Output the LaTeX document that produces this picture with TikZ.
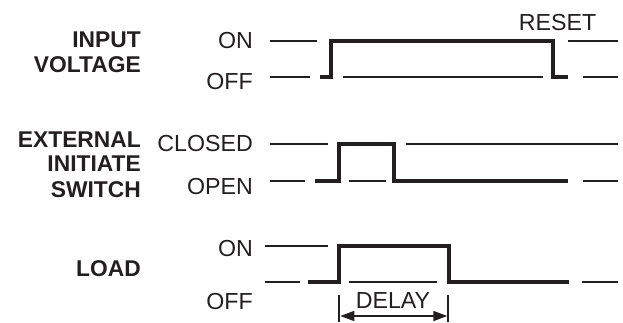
\documentclass[tikz,border=0pt]{standalone}
\usepackage{fontspec}
\setmainfont{Liberation Sans}
\usetikzlibrary{arrows.meta}
\definecolor{ink}{RGB}{35,31,32}
\begin{document}
\begin{tikzpicture}[x=1pt,y=-1pt,
  lbl/.style={font=\fontsize{22.8}{26}\selectfont\bfseries, inner sep=0pt, anchor=base east, text=ink},
  lvl/.style={font=\fontsize{23.2}{26}\selectfont, inner sep=0pt, anchor=base east, text=ink},
  sig/.style={line width=4pt, draw=ink, line join=miter},
  ref/.style={line width=2pt, draw=ink},
  dimline/.style={line width=1.6pt, draw=ink, {Triangle[length=14pt,width=10pt]}-{Triangle[length=14pt,width=10pt]}}]
\useasboundingbox (0,0) rectangle (623,322);

% --- labels ---
\node[lbl] (in1) at (141,47.3) {INPUT};
\node[lbl] (in2) at (141,72.7) {VOLTAGE};
\node[lbl] (ex1) at (141,147.3) {EXTERNAL};
\node[lbl] (ex2) at (141,171.7) {INITIATE};
\node[lbl] (ex3) at (141,197.3) {SWITCH};
\node[lbl] (ld)  at (141,276.7) {LOAD};

\node[lvl] (ion)  at (253,48.3) {ON};
\node[lvl] (ioff) at (253,89.3) {OFF};
\node[lvl] (scl)  at (253,151.7) {CLOSED};
\node[lvl] (sop)  at (253,194) {OPEN};
\node[lvl] (lon)  at (253,256) {ON};
\node[lvl] (loff) at (253,309) {OFF};
\node[lvl, anchor=base] (reset) at (557.5,30) {RESET};

% --- input voltage ---
\draw[ref] (270,41) -- (316.7,41);
\draw[ref] (270,77) -- (310,77);
\draw[sig] (320,77) -- (331,77) -- (331,41) -- (552.7,41) -- (552.7,77) -- (568.3,77);
\draw[ref] (343.3,77) -- (543.3,77);
\draw[ref] (568.3,41) -- (618,41);
\draw[ref] (583,77) -- (618,77);

% --- external initiate switch ---
\draw[ref] (270,144) -- (328.3,144);
\draw[ref] (270,181) -- (305,181);
\draw[sig] (315,181) -- (339.3,181) -- (339.3,144) -- (394.3,144) -- (394.3,181) -- (568.3,181);
\draw[ref] (349.3,181) -- (386,181);
\draw[ref] (406,144) -- (618,144);
\draw[ref] (583.3,181) -- (618,181);

% --- load ---
\draw[ref] (265,246) -- (328.3,246);
\draw[ref] (265,282) -- (300,282);
\draw[sig] (308.3,282) -- (339.3,282) -- (339.3,246) -- (449,246) -- (449,282) -- (569.3,282);
\draw[ref] (349.3,282) -- (437.3,282);
\draw[ref] (581.7,282) -- (618,282);

% --- delay dimension ---
\coordinate (t1a) at (339.3,295); \coordinate (t1b) at (339.3,322);
\coordinate (t2a) at (448.3,295); \coordinate (t2b) at (448.3,322);
\coordinate (dl) at (340.3,316); \coordinate (dr) at (447.3,316);
\draw[ref] (t1a) -- (t1b);
\draw[ref] (t2a) -- (t2b);
\draw[dimline] (dl) -- (dr);
\node[lvl, anchor=base] (delay) at (393,308) {DELAY};
\end{tikzpicture}
\end{document}
